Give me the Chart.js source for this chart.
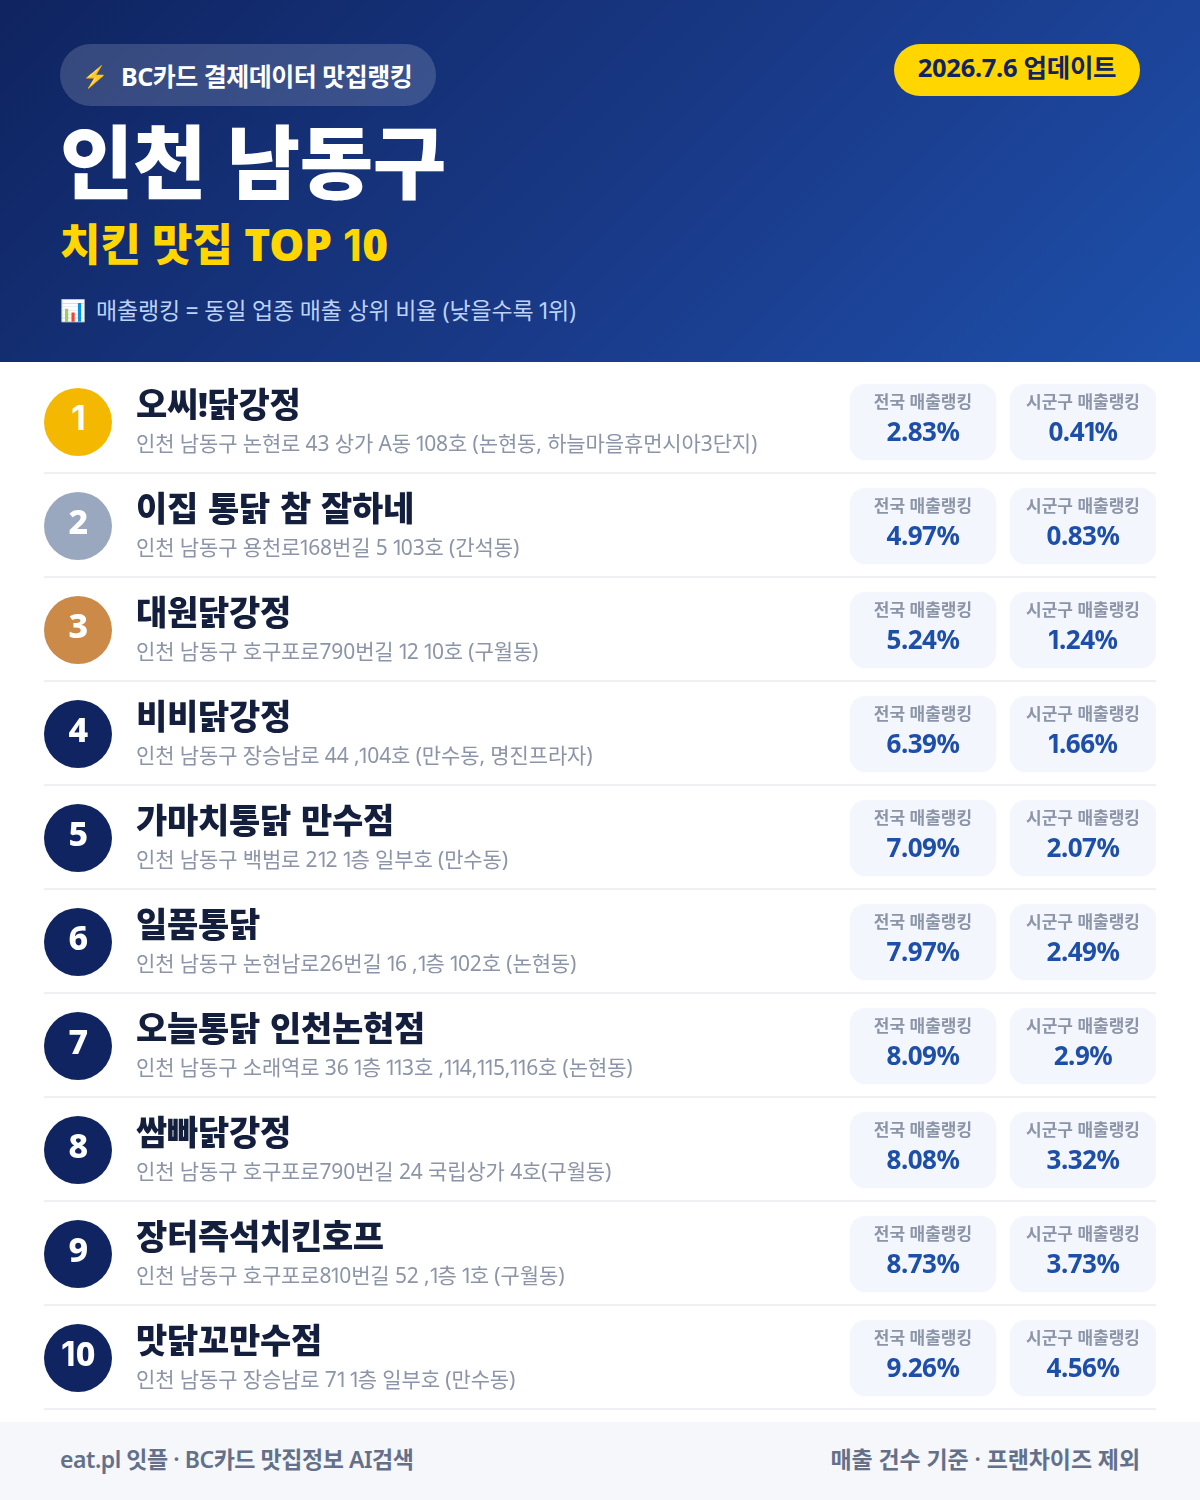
<!DOCTYPE html>
<html lang="ko"><head><meta charset="utf-8">
<script src="https://cdn.jsdelivr.net/npm/chart.js@4"></script>
<style>
@font-face{font-family:"Num1";font-weight:400;src:local("Inter"),local("Inter Regular");unicode-range:U+31}
@font-face{font-family:"Num1";font-weight:700 900;src:local("Inter Bold"),local("Inter");unicode-range:U+31}
html,body{margin:0;padding:0;background:#fff;width:1200px;height:1500px;overflow:hidden;font-family:"Num1","Noto Sans","Noto Sans CJK KR",sans-serif}
#head{position:absolute;left:0;top:0;width:1200px;height:362px;background:linear-gradient(135deg,#0f2460 0%,#1a3c8c 60%,#1e50ab 100%)}
#head div{position:absolute;white-space:nowrap}
#badge{left:60px;top:44px;width:376px;height:62px;border-radius:31px;background:rgba(255,255,255,.16)}
#badgeI{left:82px;top:45px;line-height:62px;font-size:21px}
#badgeT{left:121px;top:45px;height:62px;line-height:62px;font-size:25px;font-weight:700;color:#fff;letter-spacing:-.5px}
#upd{left:894px;top:44px;width:246px;height:52px;line-height:47px;border-radius:26px;background:#FFD600;color:#0f2460;font-size:25.5px;font-weight:700;text-align:center;letter-spacing:-.3px}
#title{left:60px;top:105px;font-size:80px;line-height:112px;font-weight:900;color:#fff;letter-spacing:-.5px}
#sub{left:60px;top:212px;font-size:44px;line-height:64px;font-weight:900;color:#FFD600;letter-spacing:-.1px}
#noteI{left:60px;top:292px;font-size:21px;line-height:36px}
#note{left:96px;top:292px;font-size:23px;line-height:36px;color:#bcd2f7;letter-spacing:-.2px}
#foot{position:absolute;left:0;top:1422px;width:1200px;height:78px;background:#f5f7fb;color:#64708a;font-size:23px;font-weight:600;line-height:74px}
#foot span{position:absolute;white-space:nowrap}
#wrap{position:absolute;left:0;top:362px;width:1200px;height:1060px}
</style></head><body>
<div id="head">
<div id="badge"></div><div id="badgeI">⚡</div><div id="badgeT">BC카드 결제데이터 맛집랭킹</div>
<div id="upd">2026.7.6 업데이트</div>
<div id="title">인천 남동구</div>
<div id="sub">치킨 맛집 TOP 10</div>
<div id="noteI">📊</div><div id="note">매출랭킹 = 동일 업종 매출 상위 비율 (낮을수록 1위)</div>
</div>
<div id="wrap"><canvas id="c" width="1200" height="1060"></canvas></div>
<div id="foot"><span style="left:60px;letter-spacing:-.45px">eat.pl 잇플 · BC카드 맛집정보 AI검색</span><span style="right:60px;letter-spacing:-.1px">매출 건수 기준 · 프랜차이즈 제외</span></div>
<script>
const ranks=["1","2","3","4","5","6","7","8","9","10"];
const names=["오씨!닭강정","이집 통닭 참 잘하네","대원닭강정","비비닭강정","가마치통닭 만수점","일품통닭","오늘통닭 인천논현점","쌈빠닭강정","장터즉석치킨호프","맛닭꼬만수점"];
const addresses=["인천 남동구 논현로 43 상가 A동 108호 (논현동, 하늘마을휴먼시아3단지)","인천 남동구 용천로168번길 5 103호 (간석동)","인천 남동구 호구포로790번길 12 10호 (구월동)","인천 남동구 장승남로 44 ,104호 (만수동, 명진프라자)","인천 남동구 백범로 212 1층 일부호 (만수동)","인천 남동구 논현남로26번길 16 ,1층 102호 (논현동)","인천 남동구 소래역로 36 1층 113호 ,114,115,116호 (논현동)","인천 남동구 호구포로790번길 24 국립상가 4호(구월동)","인천 남동구 호구포로810번길 52 ,1층 1호 (구월동)","인천 남동구 장승남로 71 1층 일부호 (만수동)"];
const national=["2.83%","4.97%","5.24%","6.39%","7.09%","7.97%","8.09%","8.08%","8.73%","9.26%"];
const local=["0.41%","0.83%","1.24%","1.66%","2.07%","2.49%","2.9%","3.32%","3.73%","4.56%"];
const nationalLabel="전국 매출랭킹", localLabel="시군구 매출랭킹";
const rankColors=["#f5b800","#9aa8bf","#cb8a48","#0f2460","#0f2460","#0f2460","#0f2460","#0f2460","#0f2460","#0f2460"];
const F='"Num1","Noto Sans","Noto Sans CJK KR",sans-serif';
const card1=[850,996], card2=[1010,1156], circleX=78, textX=136;

const rowText={id:'rowText',afterDatasetsDraw(ch){
  const {ctx,scales:{x,y},chartArea:a}=ch;
  ctx.save();
  ctx.textBaseline='alphabetic';
  ranks.forEach((r,i)=>{
    const cy=y.getPixelForValue(i);
    ctx.fillStyle='#eef0f3';ctx.fillRect(a.left,cy+50,a.right-a.left,2);
    const put=(s,px,py,font,col,al,ls,ws)=>{ctx.font=font+' '+F;ctx.fillStyle=col;ctx.textAlign=al;ctx.letterSpacing=ls||'0px';ctx.wordSpacing=ws||'0px';ctx.fillText(s,px,py);};
    put(r,x.getPixelForValue(circleX),cy+8,'800 34px','#fff','center','-0.5px');
    put(names[i],x.getPixelForValue(textX),cy-5,'900 34px','#141f3d','left','-0.3px','1.5px');
    put(addresses[i],x.getPixelForValue(textX),cy+29,'400 21px','#8b95a7','left','-0.12px');
    const c1=x.getPixelForValue((card1[0]+card1[1])/2),c2=x.getPixelForValue((card2[0]+card2[1])/2);
    put(nationalLabel,c1,cy-14,'700 17px','#8b95a7','center');
    put(localLabel,c2,cy-14,'700 17px','#8b95a7','center');
    put(national[i],c1,cy+19,'700 26px','#1e4fa8','center','-0.5px');
    put(local[i],c2,cy+19,'700 26px','#1e4fa8','center','-0.5px');
  });
  ctx.restore();
}};

function build(){
new Chart(document.getElementById('c'),{
  type:'bar',
  data:{labels:ranks,datasets:[
    {label:nationalLabel,indexAxis:'y',data:ranks.map(()=>card1),backgroundColor:'#f3f6fc',borderRadius:16,borderSkipped:false,barThickness:76,grouped:false,order:2},
    {label:localLabel,indexAxis:'y',data:ranks.map(()=>card2),backgroundColor:'#f3f6fc',borderRadius:16,borderSkipped:false,barThickness:76,grouped:false,order:2},
    {type:'scatter',label:'rank',indexAxis:'x',data:ranks.map(r=>({x:circleX,y:r})),pointRadius:34,pointHoverRadius:34,pointBackgroundColor:rankColors,pointBorderWidth:0,showLine:false,order:1}
  ]},
  options:{
    indexAxis:'y',responsive:false,animation:false,events:[],
    layout:{autoPadding:false,padding:{left:44,right:44,top:8,bottom:12}},
    plugins:{legend:{display:false},tooltip:{enabled:false}},
    scales:{
      x:{type:'linear',min:44,max:1156,display:false},
      y:{type:'category',labels:ranks,offset:true,display:false}
    }
  },
  plugins:[rowText]
});
}
Promise.all([document.fonts.load('400 21px Num1','1'),document.fonts.load('700 26px Num1','1')]).then(build,build);
</script>
</body></html>
